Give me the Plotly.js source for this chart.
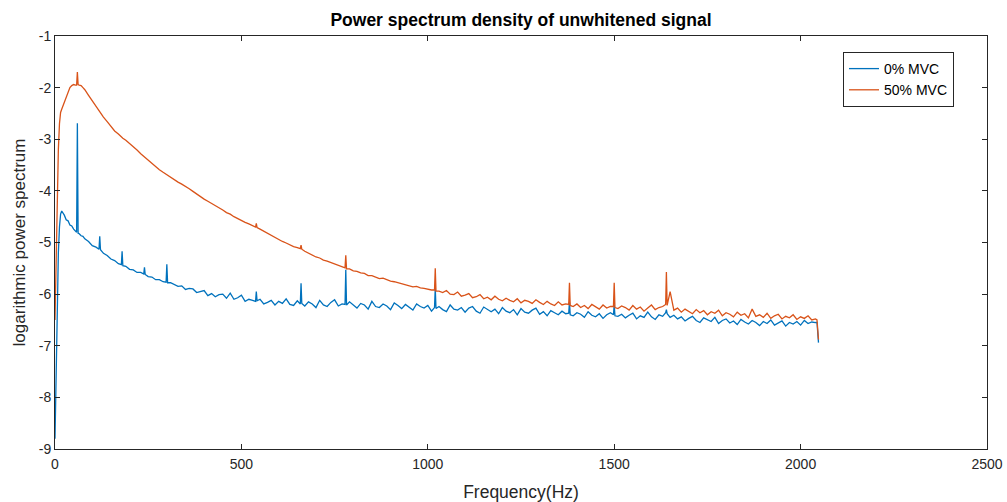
<!DOCTYPE html>
<html>
<head>
<meta charset="utf-8">
<script src="https://cdn.plot.ly/plotly-3.0.1.min.js"></script>
<style>
  html, body { margin: 0; padding: 0; background: #ffffff; }
  #chart { width: 1007px; height: 502px; }
</style>
</head>
<body>
<div id="chart"></div>
<script>
// Frequency grid (Hz)
const freqHz = [
  0,3,6,9,12,15,18,21,25,30,35,40,45,50,55,58,60,62,65,70,75,80,90,100,110,118,120,122,
  130,140,150,160,170,178,180,182,190,200,210,220,230,238,240,242,250,260,270,280,290,298,300,302,
  310,320,330,340,350,360,370,380,390,400,410,420,430,440,450,460,470,480,490,500,510,520,530,
  538,540,542,
  550,560,570,580,590,600,610,620,630,640,650,
  658,660,662,
  670,680,690,700,710,720,730,740,750,760,770,
  778,780,782,
  790,800,810,820,830,840,850,860,870,880,890,900,910,920,930,940,950,960,970,980,990,1000,1010,
  1018,1020,1022,
  1030,1040,1050,1060,1070,1080,1090,1100,1110,1120,1130,1140,1150,1160,1170,1180,1190,1200,1210,1220,
  1230,1240,1250,1260,1270,1280,1290,1300,1310,1320,1330,1340,1350,1360,1370,
  1378,1380,1382,
  1390,1400,1410,1420,1430,1440,1450,1460,1470,1480,1490,
  1498,1500,1502,
  1510,1520,1530,1540,1550,1560,1570,1580,1590,1600,1610,1620,1630,
  1638,1640,1642,
  1650,1660,1670,1680,1690,1700,1710,1720,1730,1740,1750,1760,1770,1780,1790,1800,1810,1820,1830,1840,
  1850,1860,1870,1880,1890,1900,1910,1920,1930,1940,1950,1960,1970,1980,1990,2000,2010,2020,2030,2040,
  2044,2048
];

// 0% MVC : logarithmic power spectrum
const psd0 = [
  -8.80,-7.50,-6.20,-5.20,-4.70,-4.45,-4.39,-4.42,-4.47,-4.56,-4.58,-4.66,-4.68,-4.74,-4.77,-4.80,-2.69,-4.82,-4.83,-4.87,-4.88,-4.93,-4.98,-5.06,-5.09,-5.13,-4.88,-5.14,
  -5.21,-5.25,-5.32,-5.35,-5.41,-5.43,-5.17,-5.45,-5.46,-5.52,-5.53,-5.58,-5.58,-5.61,-5.48,-5.62,-5.66,-5.67,-5.72,-5.72,-5.76,-5.77,-5.42,-5.78,
  -5.78,-5.81,-5.85,-5.84,-5.91,-5.89,-5.90,-5.97,-5.95,-5.93,-6.03,-5.99,-6.05,-6.01,-6.00,-6.08,-5.98,-6.10,-6.07,-6.02,-6.14,-6.10,-6.12,
  -6.14,-5.95,-6.13,
  -6.10,-6.19,-6.16,-6.12,-6.21,-6.14,-6.18,-6.09,-6.20,-6.22,-6.13,
  -6.19,-5.79,-6.18,
  -6.23,-6.15,-6.19,-6.26,-6.12,-6.21,-6.24,-6.16,-6.11,-6.23,-6.19,
  -6.20,-5.53,-6.21,
  -6.15,-6.22,-6.27,-6.18,-6.21,-6.29,-6.14,-6.24,-6.26,-6.19,-6.23,-6.30,-6.17,-6.22,-6.28,-6.20,-6.25,-6.31,-6.19,-6.24,-6.27,-6.22,-6.33,
  -6.26,-5.88,-6.28,
  -6.24,-6.30,-6.34,-6.21,-6.29,-6.31,-6.26,-6.35,-6.27,-6.24,-6.33,-6.37,-6.25,-6.30,-6.34,-6.29,-6.38,-6.26,-6.33,-6.36,
  -6.30,-6.40,-6.28,-6.35,-6.37,-6.31,-6.27,-6.39,-6.34,-6.42,-6.32,-6.36,-6.40,-6.33,-6.38,
  -6.37,-6.15,-6.40,
  -6.42,-6.36,-6.39,-6.45,-6.34,-6.41,-6.44,-6.38,-6.47,-6.40,-6.36,
  -6.40,-6.20,-6.42,
  -6.43,-6.39,-6.46,-6.41,-6.37,-6.48,-6.42,-6.45,-6.35,-6.44,-6.49,-6.40,-6.43,
  -6.36,-6.30,-6.38,
  -6.45,-6.41,-6.48,-6.44,-6.52,-6.47,-6.43,-6.51,-6.55,-6.46,-6.50,-6.53,-6.45,-6.57,-6.51,-6.48,-6.56,-6.52,-6.59,-6.49,
  -6.54,-6.58,-6.51,-6.55,-6.61,-6.53,-6.57,-6.50,-6.60,-6.56,-6.52,-6.62,-6.55,-6.58,-6.53,-6.60,-6.51,-6.57,-6.54,-6.55,
  -6.55,-6.94
];

// 50% MVC : logarithmic power spectrum
const psd50 = [
  -6.50,-5.20,-4.00,-3.20,-2.70,-2.48,-2.42,-2.36,-2.28,-2.17,-2.07,-2.00,-1.96,-1.94,-1.95,-1.95,-1.70,-1.94,-1.95,-1.96,-2.00,-2.04,-2.15,-2.26,-2.37,-2.46,-2.47,-2.48,
  -2.57,-2.66,-2.75,-2.84,-2.90,-2.96,-2.97,-2.98,-3.02,-3.08,-3.15,-3.21,-3.28,-3.33,-3.35,-3.36,-3.42,-3.48,-3.53,-3.59,-3.64,-3.68,-3.69,-3.70,
  -3.74,-3.78,-3.83,-3.87,-3.91,-3.96,-4.01,-4.06,-4.12,-4.16,-4.20,-4.24,-4.29,-4.33,-4.37,-4.42,-4.45,-4.50,-4.54,-4.57,-4.61,-4.64,-4.67,
  -4.70,-4.63,-4.71,
  -4.74,-4.78,-4.82,-4.86,-4.91,-4.94,-4.98,-5.01,-5.05,-5.08,-5.10,
  -5.12,-5.05,-5.13,
  -5.17,-5.21,-5.24,-5.28,-5.30,-5.34,-5.36,-5.39,-5.42,-5.44,-5.48,
  -5.49,-5.25,-5.51,
  -5.51,-5.55,-5.56,-5.59,-5.60,-5.64,-5.64,-5.67,-5.70,-5.69,-5.72,-5.75,-5.76,-5.78,-5.80,-5.81,-5.83,-5.86,-5.85,-5.88,-5.89,-5.91,-5.92,
  -5.92,-5.50,-5.94,
  -5.94,-5.97,-5.93,-6.00,-6.01,-5.96,-6.04,-6.02,-5.99,-6.07,-6.05,-6.01,-6.09,-6.06,-6.11,-6.04,-6.10,-6.13,-6.08,-6.12,
  -6.15,-6.09,-6.17,-6.12,-6.14,-6.18,-6.11,-6.16,-6.20,-6.14,-6.19,-6.22,-6.15,-6.21,-6.19,
  -6.20,-5.78,-6.22,
  -6.24,-6.19,-6.26,-6.22,-6.28,-6.20,-6.25,-6.29,-6.21,-6.27,-6.24,
  -6.24,-5.78,-6.26,
  -6.28,-6.23,-6.26,-6.31,-6.22,-6.29,-6.25,-6.33,-6.27,-6.21,-6.30,-6.26,-6.24,
  -6.20,-5.57,-6.22,
  -5.95,-6.31,-6.27,-6.35,-6.29,-6.33,-6.38,-6.30,-6.36,-6.32,-6.40,-6.34,-6.37,-6.31,-6.42,-6.36,-6.39,-6.44,-6.35,-6.41,
  -6.38,-6.46,-6.29,-6.43,-6.40,-6.45,-6.37,-6.47,-6.42,-6.39,-6.48,-6.43,-6.46,-6.40,-6.49,-6.44,-6.47,-6.42,-6.50,-6.48,
  -6.50,-6.88
];

const seriesNames = ['0% MVC', '50% MVC'];
const seriesColors = ['#0072BD', '#D95319'];
const xTicks = [0, 500, 1000, 1500, 2000, 2500];
const yTicks = [-9, -8, -7, -6, -5, -4, -3, -2, -1];

const font = 'Liberation Sans, Arial, Helvetica, sans-serif';
const ink = '#262626';

const traces = [psd0, psd50].map((ys, i) => ({
  type: 'scatter',
  mode: 'lines',
  x: freqHz,
  y: ys,
  name: seriesNames[i],
  line: { color: seriesColors[i], width: 1.3 },
  hoverinfo: 'x+y+name'
}));

const axisCommon = {
  showgrid: false,
  zeroline: false,
  showline: true,
  mirror: 'allticks',
  linecolor: ink,
  linewidth: 1,
  ticks: 'inside',
  ticklen: 5,
  tickwidth: 1,
  tickcolor: ink,
  tickfont: { family: font, size: 14, color: ink }
};

const layout = {
  width: 1007,
  height: 502,
  margin: { l: 55, r: 20, t: 36, b: 53 },
  paper_bgcolor: '#ffffff',
  plot_bgcolor: '#ffffff',
  showlegend: true,
  title: {
    text: '<b>Power spectrum density of unwhitened signal</b>',
    font: { family: font, size: 17.5, color: '#000000' },
    x: 0.5, xref: 'paper', xanchor: 'center',
    y: 1 - 20 / 502, yref: 'container', yanchor: 'middle'
  },
  xaxis: Object.assign({}, axisCommon, {
    range: [0, 2500],
    tickvals: xTicks,
    ticktext: xTicks.map(String),
    ticklabelstandoff: 2,
    title: { text: 'Frequency(Hz)', font: { family: font, size: 17.5, color: ink }, standoff: 14 }
  }),
  yaxis: Object.assign({}, axisCommon, {
    range: [-9, -1],
    tickvals: yTicks,
    ticktext: yTicks.map(String),
    title: { text: 'logarithmic power spectrum', font: { family: font, size: 17, color: ink }, standoff: 8 }
  }),
  legend: {
    x: (843 - 55) / 932, xref: 'paper', xanchor: 'left',
    y: (449 - 52) / 413, yref: 'paper', yanchor: 'top',
    bgcolor: '#ffffff',
    bordercolor: ink,
    borderwidth: 1,
    font: { family: font, size: 14, color: '#000000' },
    tracegroupgap: 0
  }
};

Plotly.newPlot('chart', traces, layout, { displayModeBar: false, staticPlot: true });
</script>
</body>
</html>
